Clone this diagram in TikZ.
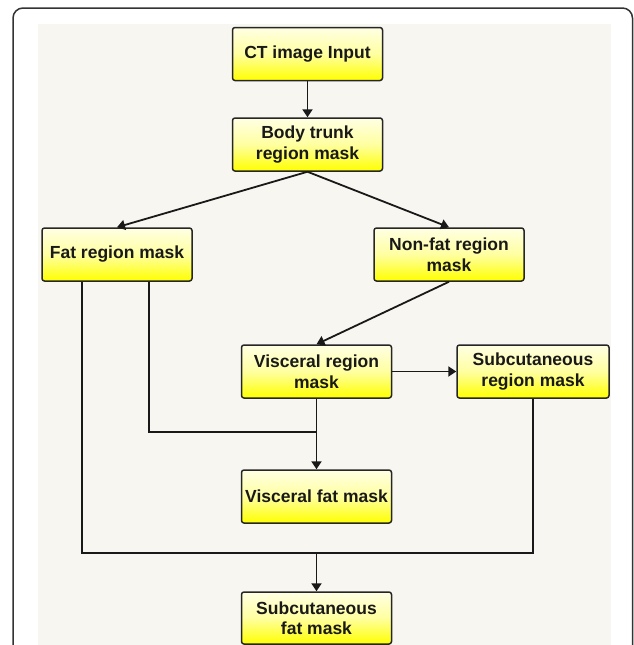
\documentclass[tikz,border=0pt]{standalone}
\usepackage{fontspec}
\setmainfont{Liberation Sans}
\usetikzlibrary{arrows.meta}
\definecolor{bgbeige}{RGB}{248,246,240}
\definecolor{boxtop}{RGB}{255,255,228}
\definecolor{boxmid}{RGB}{255,255,160}
\definecolor{boxbot}{RGB}{255,255,0}
\tikzset{
  flowbox/.style={rectangle, rounded corners=2.5pt, draw=black!85, line width=1.5pt,
    top color=boxtop, bottom color=boxbot, middle color=boxmid,
    minimum width=150pt, minimum height=53pt, align=center, inner sep=2pt,
    font=\fontsize{17.5}{20.5}\selectfont\bfseries, text=black!90},
  link/.style={line width=1.8pt, draw=black!90},
  arrowlink/.style={link, -{Triangle[length=8pt,width=10pt]}}
}
\begin{document}
\begin{tikzpicture}[x=1pt,y=1pt]
\useasboundingbox (0,0) rectangle (634,-645);
\begin{scope}
\clip (0,0) rectangle (634,-645);
\draw[line width=1.5pt, draw=black!80, rounded corners=10pt] (13,-8) rectangle (632.5,-700);
\fill[bgbeige] (38,-24) rectangle (611,-700);
\end{scope}

\node[flowbox] (ct) at (307.5,-54) {CT image Input};
\node[flowbox] (body) at (307.5,-144.5) {Body trunk\\region mask};
\node[flowbox] (fat) at (117,-254.5) {Fat region mask};
\node[flowbox] (nonfat) at (449,-254.5) {Non-fat region\\mask};
\node[flowbox] (vr) at (316.5,-371.5) {Visceral region\\mask};
\node[flowbox, minimum width=152pt] (sr) at (533,-371.5) {Subcutaneous\\region mask};
\node[flowbox] (vf) at (316.5,-496.5) {Visceral fat mask};
\node[flowbox, minimum height=52pt] (sf) at (316.5,-618) {Subcutaneous\\fat mask};

\coordinate (j1) at (316.5,-432);
\coordinate (j2) at (316.5,-553);

\draw[arrowlink] (ct) -- (body);
\draw[arrowlink] (body.south) -- (fat.north);
\draw[arrowlink] (body.south) -- (nonfat.north);
\draw[arrowlink] (nonfat.south) -- (vr.north);
\draw[arrowlink] (vr.east) -- (sr.west);
\draw[arrowlink] (vr.south) -- (vf.north);
\draw[link] ([xshift=32pt]fat.south) |- (j1);
\draw[link] ([xshift=-35pt]fat.south) |- (j2) -| (sr.south);
\draw[arrowlink] (j2) -- (sf.north);
\end{tikzpicture}
\end{document}
